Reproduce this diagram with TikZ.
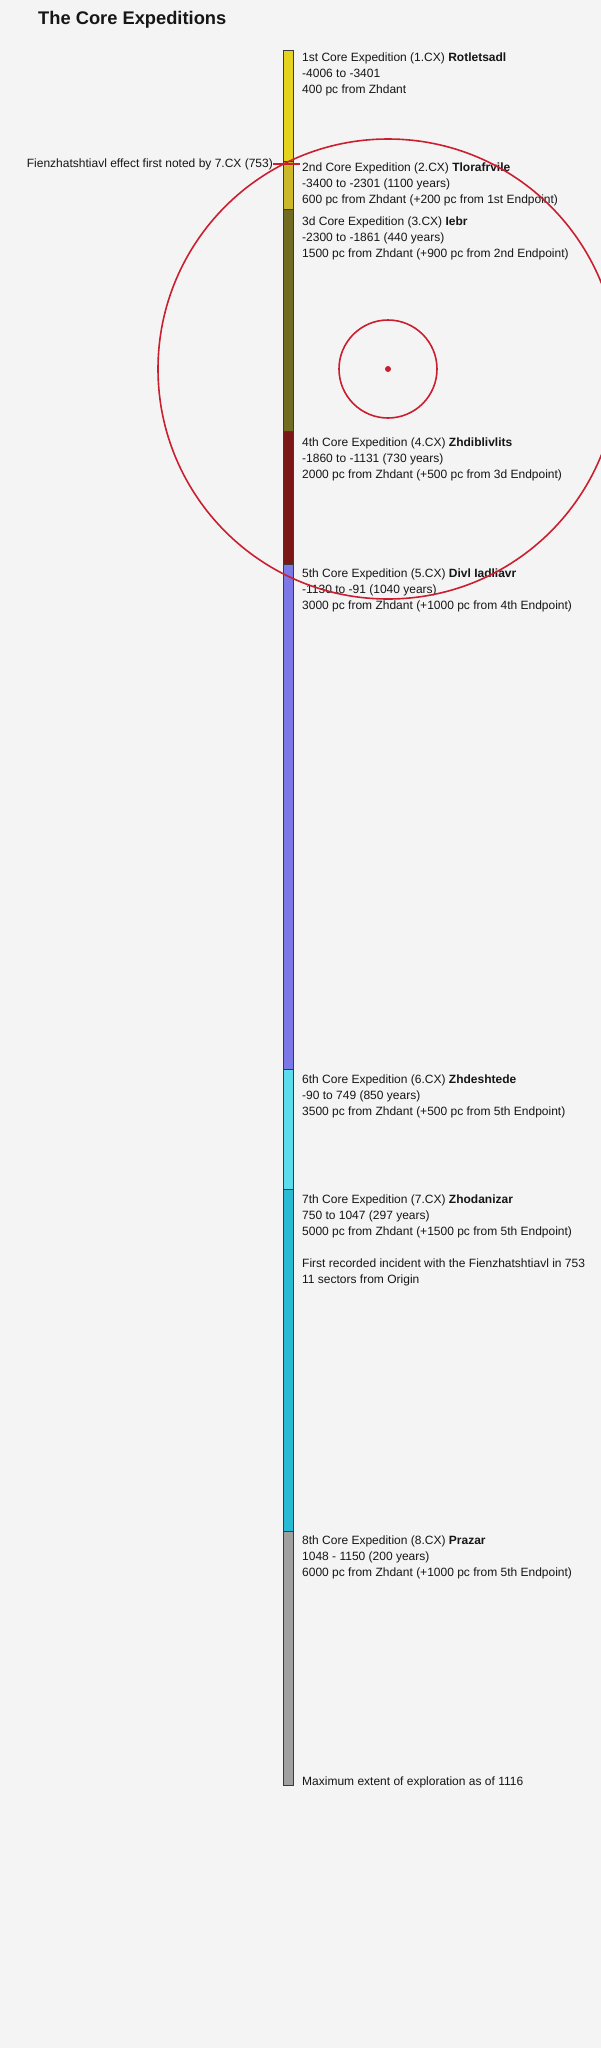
\documentclass[tikz,border=0pt]{standalone}
\usepackage{fontspec}
\setmainfont{Liberation Sans}
\usetikzlibrary{positioning,calc}
\definecolor{cxbg}{HTML}{F4F4F4}
\definecolor{cxink}{HTML}{161616}
\definecolor{cxedge}{HTML}{3A3A3A}
\definecolor{cxred}{HTML}{C91F30}
\definecolor{cxone}{HTML}{E6D320}
\definecolor{cxtwo}{HTML}{CBB92A}
\definecolor{cxthree}{HTML}{716C1F}
\definecolor{cxfour}{HTML}{7C1717}
\definecolor{cxfive}{HTML}{7C78E8}
\definecolor{cxsix}{HTML}{5CDDEE}
\definecolor{cxseven}{HTML}{29BAD4}
\definecolor{cxeight}{HTML}{A0A0A0}
\tikzset{
  seg/.style={draw=cxedge, line width=0.8pt, minimum width=10pt,
              inner sep=0pt, outer sep=0pt},
  info/.style={align=left, inner sep=0pt, text=cxink,
               font=\fontsize{12}{16}\selectfont},
  headline/.style={inner sep=0pt, text=cxink,
                   font=\bfseries\fontsize{18.3}{22}\selectfont},
  orbit/.style={draw=cxred, line width=1.6pt, circle, inner sep=0pt},
  leader/.style={draw=cxred, line width=1.3pt},
}

\begin{document}
\begin{tikzpicture}[x=1pt, y=1pt]
\useasboundingbox (0,0) rectangle (601,-2048);
\fill[cxbg] (0,0) rectangle (601,-2048);

\node[headline, anchor=base west] (title) at (38,-24) {The Core Expeditions};

% the timeline bar, one segment per expedition
\node[seg, fill=cxone, minimum height=111pt, anchor=north] (cx1) at (288,-50) {};
\node[seg, fill=cxtwo, minimum height=48pt, below=0pt of cx1] (cx2) {};
\node[seg, fill=cxthree, minimum height=222pt, below=0pt of cx2] (cx3) {};
\node[seg, fill=cxfour, minimum height=133pt, below=0pt of cx3] (cx4) {};
\node[seg, fill=cxfive, minimum height=505pt, below=0pt of cx4] (cx5) {};
\node[seg, fill=cxsix, minimum height=120pt, below=0pt of cx5] (cx6) {};
\node[seg, fill=cxseven, minimum height=342pt, below=0pt of cx6] (cx7) {};
\node[seg, fill=cxeight, minimum height=254pt, below=0pt of cx7] (cx8) {};

\node[info, below right=3pt and 9pt of cx1.north east] (t1)
  {1st Core Expedition (1.CX) \textbf{Rotletsadl}\\
   -4006 to -3401\\
   400 pc from Zhdant};
\node[info, below right=2pt and 9pt of cx2.north east] (t2)
  {2nd Core Expedition (2.CX) \textbf{Tlorafrvile}\\
   -3400 to -2301 (1100 years)\\
   600 pc from Zhdant (+200 pc from 1st Endpoint)};
\node[info, below right=8pt and 9pt of cx3.north east] (t3)
  {3d Core Expedition (3.CX) \textbf{Iebr}\\
   -2300 to -1861 (440 years)\\
   1500 pc from Zhdant (+900 pc from 2nd Endpoint)};
\node[info, below right=7pt and 9pt of cx4.north east] (t4)
  {4th Core Expedition (4.CX) \textbf{Zhdiblivlits}\\
   -1860 to -1131 (730 years)\\
   2000 pc from Zhdant (+500 pc from 3d Endpoint)};
\node[info, below right=5pt and 9pt of cx5.north east] (t5)
  {5th Core Expedition (5.CX) \textbf{Divl Iadliavr}\\
   -1130 to -91 (1040 years)\\
   3000 pc from Zhdant (+1000 pc from 4th Endpoint)};
\node[info, below right=6pt and 9pt of cx6.north east] (t6)
  {6th Core Expedition (6.CX) \textbf{Zhdeshtede}\\
   -90 to 749 (850 years)\\
   3500 pc from Zhdant (+500 pc from 5th Endpoint)};
\node[info, below right=6pt and 9pt of cx7.north east] (t7)
  {7th Core Expedition (7.CX) \textbf{Zhodanizar}\\
   750 to 1047 (297 years)\\
   5000 pc from Zhdant (+1500 pc from 5th Endpoint)\\[16pt]
   First recorded incident with the Fienzhatshtiavl in 753\\
   11 sectors from Origin};
\node[info, below right=5pt and 9pt of cx8.north east] (t8)
  {8th Core Expedition (8.CX) \textbf{Prazar}\\
   1048 - 1150 (200 years)\\
   6000 pc from Zhdant (+1000 pc from 5th Endpoint)};
\node[info, right=9pt of cx8.south east, anchor=base west] (maxext)
  {Maximum extent of exploration as of 1116};

% marker for the 7.CX observation
\coordinate (fxmark) at (300,-164);
\node[info, left=27pt of fxmark] (fxnote)
  {Fienzhatshtiavl effect first noted by 7.CX (753)};
\draw[leader] (fxnote.east) -- (fxmark);

% sphere of the effect round Zhdant
\node[orbit, minimum size=460pt] (outer) at (388,-369) {};
\node[orbit, minimum size=98pt] (inner) at (outer.center) {};
\node[circle, fill=cxred, minimum size=6pt, inner sep=0pt] (zhdant) at (outer.center) {};
\end{tikzpicture}
\end{document}
